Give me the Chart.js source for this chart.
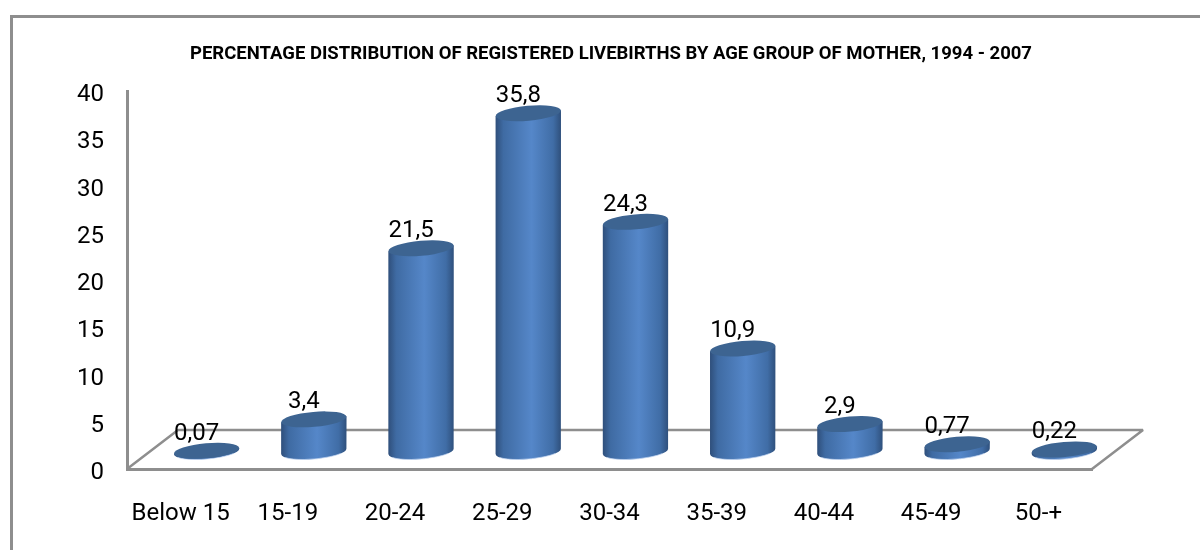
<!DOCTYPE html>
<html lang="en">
<head>
  <meta charset="UTF-8">
  <title>Registered livebirths by age group of mother</title>
  <script src="https://cdn.jsdelivr.net/npm/chart.js"></script>
  <style>
    html, body { margin: 0; padding: 0; background: #fff; overflow: hidden; }
    #wrap { position: relative; width: 1200px; height: 550px; }
    /* chart frame runs off the bottom of the picture */
    #frame {
      position: absolute; left: 10px; top: 15px; width: 1400px; height: 600px;
      border: 3px solid #8e8e8e; box-sizing: border-box;
    }
    #chart { position: absolute; left: 0; top: 0; }
  </style>
</head>
<body>
  <div id="wrap">
    <div id="frame"></div>
    <canvas id="chart" width="1200" height="550"></canvas>
  </div>

  <script>
    const titleText = 'PERCENTAGE DISTRIBUTION OF REGISTERED LIVEBIRTHS BY AGE GROUP OF MOTHER, 1994 - 2007';
    const ageGroups = ['Below 15', '15-19', '20-24', '25-29', '30-34', '35-39', '40-44', '45-49', '50-+'];
    const shares = [0.07, 3.4, 21.5, 35.8, 24.3, 10.9, 2.9, 0.77, 0.22];
    const yTicks = [0, 5, 10, 15, 20, 25, 30, 35, 40];

    const fontFamily = 'Roboto, "Liberation Sans", Arial, sans-serif';
    const labelSize = 24;
    const axisGrey = '#8e8e8e';

    // 3D look of the original: floor depth, and how far the bars sit back on it
    const depthX = 51, depthY = -39;
    const barShiftX = 26, barShiftY = -17.5;
    const tilt = -5 * Math.PI / 180;
    const capRy = 7.5;

    // back edge and side edges of the floor
    const floorPlugin = {
      id: 'floor',
      beforeDatasetsDraw(chart) {
        const { left, right, bottom } = chart.chartArea;
        const ctx = chart.ctx;
        ctx.save();
        ctx.strokeStyle = axisGrey;
        ctx.lineWidth = 2.5;
        ctx.lineJoin = 'bevel';
        ctx.beginPath();
        ctx.moveTo(left, bottom);
        ctx.lineTo(left + depthX, bottom + depthY);
        ctx.lineTo(right + depthX, bottom + depthY);
        ctx.lineTo(right, bottom);
        ctx.stroke();
        ctx.restore();
      }
    };

    // paints each bar element as a cylinder, and the value above it
    const cylinderPlugin = {
      id: 'cylinders',
      afterDatasetsDraw(chart) {
        const ctx = chart.ctx;
        const meta = chart.getDatasetMeta(0);
        meta.data.forEach(function(bar, i) {
          const cx = bar.x + barShiftX;
          const top = bar.y + barShiftY;
          const base = bar.base + barShiftY;
          const rx = bar.width / 2;
          const lift = rx * Math.sin(tilt);

          const grad = ctx.createLinearGradient(cx - rx, 0, cx + rx, 0);
          grad.addColorStop(0, '#2f4f7b');
          grad.addColorStop(0.12, '#3f6ba3');
          grad.addColorStop(0.55, '#5587c9');
          grad.addColorStop(0.88, '#406da6');
          grad.addColorStop(1, '#2f507c');

          ctx.save();
          ctx.fillStyle = grad;
          ctx.beginPath();
          ctx.moveTo(cx - rx, top - lift);
          ctx.lineTo(cx - rx, base - lift);
          ctx.ellipse(cx, base, rx, capRy, tilt, Math.PI, 0, true);
          ctx.lineTo(cx + rx, top + lift);
          ctx.closePath();
          ctx.fill();

          // pale rim along the bottom
          ctx.strokeStyle = 'rgba(190,210,240,0.7)';
          ctx.lineWidth = 1;
          ctx.beginPath();
          ctx.ellipse(cx, base, rx, capRy, tilt, Math.PI * 0.85, Math.PI * 0.2, true);
          ctx.stroke();

          ctx.fillStyle = '#3d6491';
          ctx.beginPath();
          ctx.ellipse(cx, top, rx, capRy, tilt, 0, Math.PI * 2);
          ctx.fill();

          ctx.fillStyle = '#000';
          ctx.font = labelSize + 'px ' + fontFamily;
          ctx.textAlign = 'center';
          ctx.textBaseline = 'middle';
          ctx.fillText(String(shares[i]).replace('.', ','), cx - 10, top - 17);
          ctx.restore();
        });
      }
    };

    new Chart(document.getElementById('chart'), {
      type: 'bar',
      data: {
        labels: ageGroups,
        datasets: [{
          data: shares,
          backgroundColor: 'rgba(0,0,0,0)',
          barPercentage: 0.61,
          categoryPercentage: 1
        }]
      },
      options: {
        responsive: false,
        animation: false,
        layout: { padding: { left: 22, right: 0, top: 0, bottom: 21 } },
        plugins: {
          legend: { display: false },
          tooltip: { enabled: false },
          title: {
            display: true,
            text: titleText,
            color: '#000',
            font: { family: fontFamily, size: 18.5, weight: 'bold', lineHeight: 1 },
            padding: { top: 45.5, bottom: 27 }
          }
        },
        scales: {
          x: {
            grid: { display: false },
            border: { color: axisGrey, width: 3 },
            ticks: {
              color: '#000',
              font: { family: fontFamily, size: labelSize },
              padding: 23,
              maxRotation: 0,
              autoSkip: false
            },
            afterFit(scale) { scale.height = 60; }
          },
          y: {
            min: 0,
            max: 40,
            grid: { display: false },
            border: { color: axisGrey, width: 3 },
            afterBuildTicks(scale) { scale.ticks = yTicks.map(v => ({ value: v })); },
            ticks: {
              color: '#000',
              font: { family: fontFamily, size: labelSize },
              padding: 15,
              labelOffset: 4
            },
            afterFit(scale) { scale.width = 105; }
          },
          // empty right axis, only keeps the plot clear of the floor overhang
          spacer: {
            position: 'right',
            grid: { display: false },
            border: { display: false },
            ticks: { display: false },
            afterFit(scale) { scale.width = 108; }
          }
        }
      },
      plugins: [floorPlugin, cylinderPlugin]
    });
  </script>
</body>
</html>
